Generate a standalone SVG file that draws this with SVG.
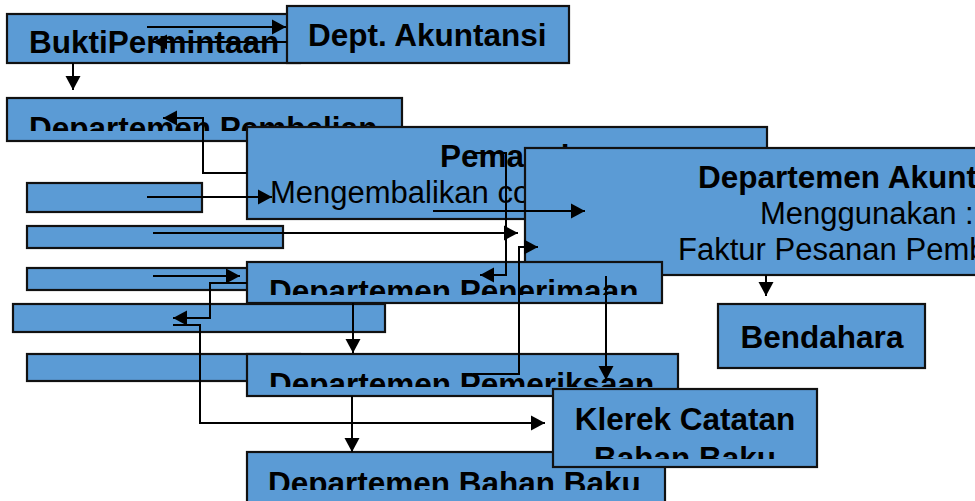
<svg xmlns="http://www.w3.org/2000/svg" width="975" height="501" viewBox="0 0 975 501">
<style>
.box{fill:#5B9BD5;stroke:#111;stroke-width:2.2}
.b{font-family:"Liberation Sans",Arial,sans-serif;font-weight:bold;font-size:31.5px;fill:#000}
.r{font-family:"Liberation Sans",Arial,sans-serif;font-size:31px;fill:#000}
.c{fill:none;stroke:#000;stroke-width:2}
</style>
<defs>
<marker id="ah" markerUnits="userSpaceOnUse" markerWidth="16" markerHeight="16" refX="14" refY="8" orient="auto">
<path d="M0,0.5 L14,8 L0,15.5 z" fill="#000"/>
</marker>
<clipPath id="cpPembelian"><rect x="7" y="98" width="395" height="33"/></clipPath>
<clipPath id="cpPenerimaan"><rect x="247" y="262" width="415" height="33"/></clipPath>
<clipPath id="cpPemeriksaan"><rect x="247" y="354" width="431" height="33"/></clipPath>
<clipPath id="cpKlerek"><rect x="553" y="389" width="264" height="70"/></clipPath>
<clipPath id="cpBahanBaku"><rect x="247" y="452" width="418" height="38"/></clipPath>
</defs>
<rect width="975" height="501" fill="#fff"/>
<g id="bukti-permintaan">
<rect class="box" x="7" y="14" width="293" height="49"/>
<text class="b" x="29" y="53">BuktiPermintaan</text>
</g>
<g id="dept-akuntansi">
<rect class="box" x="287" y="6" width="282" height="57"/>
<text class="b" x="308" y="46">Dept. Akuntansi</text>
</g>
<g id="departemen-pembelian">
<rect class="box" x="7" y="98" width="395" height="43"/>
<text class="b" x="29" y="139" clip-path="url(#cpPembelian)">Departemen Pembelian</text>
</g>
<g id="pemasok">
<rect class="box" x="247" y="127" width="520" height="92"/>
<text class="b" x="440" y="167">Pemasok</text>
<text class="r" x="270" y="203">Mengembalikan copy</text>
</g>
<g id="box-a"><rect class="box" x="27" y="183" width="175" height="29"/></g>
<g id="box-b"><rect class="box" x="27" y="226" width="256" height="22"/></g>
<g id="box-c"><rect class="box" x="27" y="268" width="273" height="22"/></g>
<g id="box-e"><rect class="box" x="27" y="354" width="273" height="27"/></g>
<g id="departemen-akuntansi">
<rect class="box" x="525" y="148" width="700" height="127"/>
<text class="b" x="698" y="188">Departemen Akuntansi</text>
<text class="r" x="760" y="224">Menggunakan :</text>
<text class="r" x="678" y="260">Faktur Pesanan Pembelian</text>
</g>
<g id="departemen-penerimaan">
<rect class="box" x="247" y="262" width="415" height="41"/>
<text class="b" x="269" y="302" clip-path="url(#cpPenerimaan)">Departemen Penerimaan</text>
</g>
<g id="box-d"><rect class="box" x="13" y="304" width="372" height="28"/></g>
<g id="departemen-pemeriksaan">
<rect class="box" x="247" y="354" width="431" height="42"/>
<text class="b" x="269" y="395" clip-path="url(#cpPemeriksaan)">Departemen Pemeriksaan</text>
</g>
<g id="bendahara">
<rect class="box" x="718" y="304" width="207" height="64"/>
<text class="b" x="822" y="348" text-anchor="middle">Bendahara</text>
</g>
<g id="departemen-bahan-baku">
<rect class="box" x="247" y="452" width="418" height="60"/>
<text class="b" x="268" y="494" clip-path="url(#cpBahanBaku)">Departemen Bahan Baku</text>
</g>
<g id="klerek-catatan">
<rect class="box" x="553" y="389" width="264" height="78"/>
<g clip-path="url(#cpKlerek)">
<text class="b" x="685" y="430" text-anchor="middle">Klerek Catatan</text>
<text class="b" x="685" y="469" text-anchor="middle">Bahan Baku</text>
</g>
</g>
<g id="connectors">
<path class="c" d="M147,27 H286" marker-end="url(#ah)"/>
<path class="c" d="M287,42 H153" marker-end="url(#ah)"/>
<path class="c" d="M73,63 V90" marker-end="url(#ah)"/>
<path class="c" d="M247,173 H203 V118 H163" marker-end="url(#ah)"/>
<path class="c" d="M147,197 H272" marker-end="url(#ah)"/>
<path class="c" d="M153,233 H518" marker-end="url(#ah)"/>
<path class="c" d="M433,211 H585" marker-end="url(#ah)"/>
<path class="c" d="M472,153 H506 V275 H480" marker-end="url(#ah)"/>
<path class="c" d="M473,374 H519 V247 H538" marker-end="url(#ah)"/>
<path class="c" d="M606,276 V380" marker-end="url(#ah)"/>
<path class="c" d="M766,275 V296" marker-end="url(#ah)"/>
<path class="c" d="M153,276 H240" marker-end="url(#ah)"/>
<path class="c" d="M247,283 H210 V318 H173" marker-end="url(#ah)"/>
<path class="c" d="M173,325 H200 V423 H545" marker-end="url(#ah)"/>
<path class="c" d="M353,303 V353" marker-end="url(#ah)"/>
<path class="c" d="M352,396 V452" marker-end="url(#ah)"/>
</g>
</svg>
